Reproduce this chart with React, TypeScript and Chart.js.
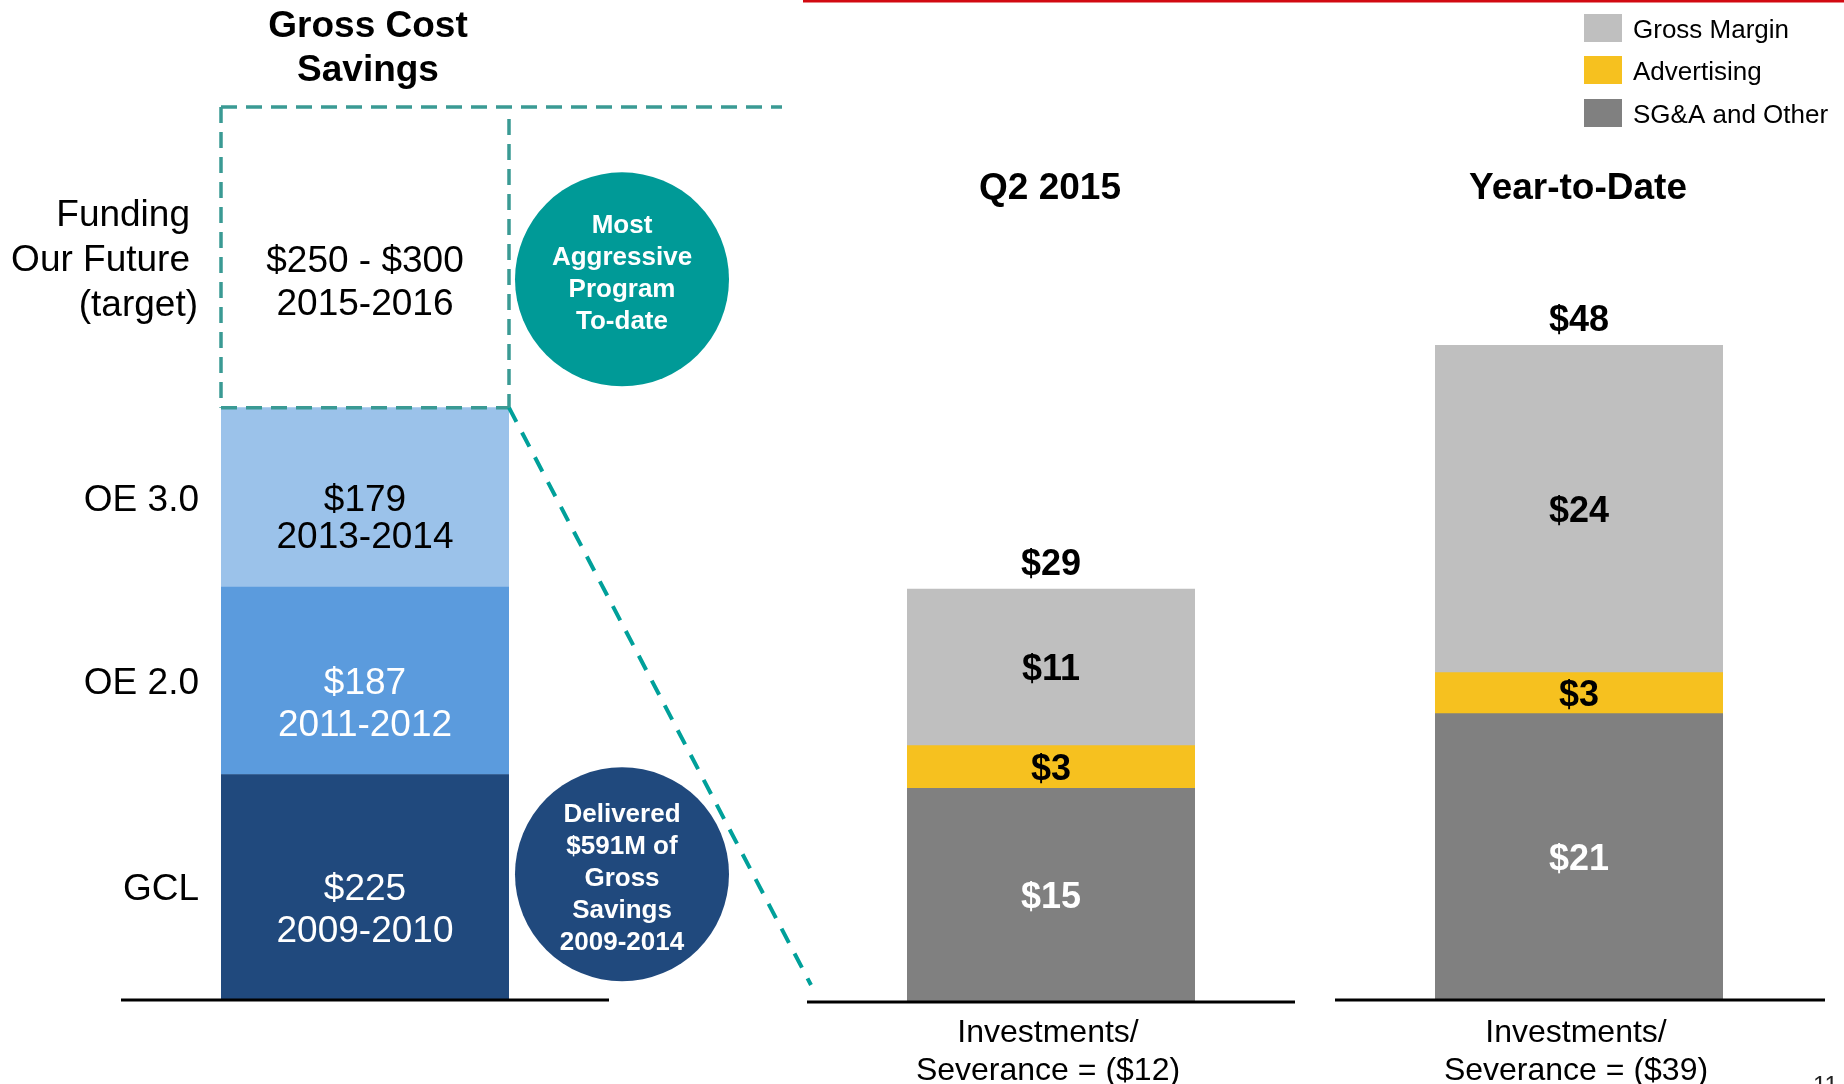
import React, { useEffect, useRef } from 'react';
import { Chart, registerables } from 'chart.js';

Chart.register(...registerables);

const FONT = '"Liberation Sans", Arial, Helvetica, sans-serif';
const W = 1844;
const H = 1084;

// ---- Left: Gross Cost Savings by program ($M) ----
const programNames = ['GCL', 'OE 2.0', 'OE 3.0'];
const programSavings = [225, 187, 179];
const programYears = ['2009-2010', '2011-2012', '2013-2014'];
const targetNameLines = ['Funding', 'Our Future', '(target)'];
const targetLow = 250;
const targetHigh = 300;
const targetYears = '2015-2016';
const deliveredTotal = 591;

// ---- Right: Q2 2015 and Year-to-Date savings ($M) ----
const periods = ['Q2 2015', 'Year-to-Date'];
const seriesNames = ['SG&A and Other', 'Advertising', 'Gross Margin'];
const sgaOther = [15, 21];
const advertising = [3, 3];
const grossMargin = [11, 24];
const investments = [12, 39];
const rightAxisMax = 50;

const leftColors = ['#20497D', '#5B9BDD', '#9BC2EA'];
const seriesColors = ['#808080', '#F6C11F', '#BFBFBF'];
const seriesTextColors = ['#FFFFFF', '#000000', '#000000'];

function txt(ctx: CanvasRenderingContext2D, s: string, x: number, y: number, size: number, bold: boolean, color: string, align: CanvasTextAlign = 'center') {
  ctx.save();
  ctx.font = `${bold ? 'bold ' : ''}${size}px ${FONT}`;
  ctx.fillStyle = color;
  ctx.textAlign = align;
  ctx.textBaseline = 'middle';
  ctx.fillText(s, x, y + 3);
  ctx.restore();
}

function line(ctx: CanvasRenderingContext2D, x1: number, y1: number, x2: number, y2: number, color: string, width: number, dash: number[] = []) {
  ctx.save();
  ctx.strokeStyle = color;
  ctx.lineWidth = width;
  ctx.setLineDash(dash);
  ctx.beginPath();
  ctx.moveTo(x1, y1);
  ctx.lineTo(x2, y2);
  ctx.stroke();
  ctx.restore();
}

const leftPlugin = {
  id: 'leftDecor',
  afterDatasetsDraw(chart: any) {
    const ctx: CanvasRenderingContext2D = chart.ctx;
    const yScale = chart.scales.y;
    const base = yScale.getPixelForValue(0);
    const els = [0, 1, 2, 3].map((i) => chart.getDatasetMeta(i).data[0] as any);
    const cx = els[0].x;
    const left = cx - els[0].width / 2;
    const right = cx + els[0].width / 2;

    // baseline
    line(ctx, left - 100, base, right + 100, base, '#000', 3);

    // title
    txt(ctx, 'Gross Cost', cx + 3, 24, 37, true, '#000');
    txt(ctx, 'Savings', cx + 3, 68, 37, true, '#000');

    // program segments
    const textColors = ['#FFFFFF', '#FFFFFF', '#000000'];
    programNames.forEach((name, i) => {
      const el = els[i];
      const mid = (el.y + el.base) / 2;
      txt(ctx, name, left - 22, mid, 37, false, '#000', 'right');
      txt(ctx, '$' + programSavings[i], cx, mid, 37, false, textColors[i]);
      txt(ctx, programYears[i], cx, mid + (i === 2 ? 37 : 42), 37, false, textColors[i]);
    });

    // target box
    const t = els[3];
    const tTop = t.y;
    const tBot = t.base;
    const tMid = (tTop + tBot) / 2;
    txt(ctx, targetNameLines[0], left - 31, tMid - 45, 37, false, '#000', 'right');
    txt(ctx, targetNameLines[1], left - 31, tMid, 37, false, '#000', 'right');
    txt(ctx, targetNameLines[2], left - 23, tMid + 45, 37, false, '#000', 'right');
    txt(ctx, `$${targetLow} - $${targetHigh}`, cx, tMid + 1, 37, false, '#000');
    txt(ctx, targetYears, cx, tMid + 44, 37, false, '#000');

    const dashC = '#3A9A94';
    line(ctx, left, tTop, right + 273, tTop, dashC, 3.5, [16, 9]);
    line(ctx, left, tTop, left, tBot, dashC, 3.5, [16, 9]);
    line(ctx, right, tTop + 12, right, tBot, dashC, 3.5, [16, 9]);
    line(ctx, left, tBot, right, tBot, dashC, 3.5, [16, 9]);
    line(ctx, right, tBot, right + 302, base - 15, '#00A09A', 4, [16, 12]);

    // circles
    const circ = (cy: number, color: string, lines: string[], textCenter: number) => {
      ctx.save();
      ctx.fillStyle = color;
      ctx.beginPath();
      ctx.arc(right + 113, cy, 107, 0, Math.PI * 2);
      ctx.fill();
      ctx.restore();
      const n = lines.length;
      lines.forEach((s, k) => {
        txt(ctx, s, right + 113, textCenter + (k - (n - 1) / 2) * 32, 26, true, '#FFFFFF');
      });
    };
    circ(tMid + 22, '#009A97', ['Most', 'Aggressive', 'Program', 'To-date'], tMid + 13);
    const g = els[0];
    const gMid = (g.y + g.base) / 2;
    circ(gMid - 13, '#20497D', ['Delivered', `$${deliveredTotal}M of`, 'Gross', 'Savings', '2009-2014'], gMid - 11);
  },
};

function makeRightPlugin(idx: number) {
  return {
    id: 'rightDecor' + idx,
    afterDatasetsDraw(chart: any) {
      const ctx: CanvasRenderingContext2D = chart.ctx;
      const base = chart.scales.y.getPixelForValue(0);
      const els = [0, 1, 2].map((i) => chart.getDatasetMeta(i).data[0] as any);
      const cx = els[0].x;
      const left = cx - els[0].width / 2;
      const right = cx + els[0].width / 2;

      line(ctx, left - 100, base, right + 100 + idx * 2, base, '#000', 3);
      txt(ctx, periods[idx], cx - 1, 186, 37, true, '#000');

      els.forEach((el, i) => {
        const mid = (el.y + el.base) / 2;
        const v = [sgaOther, advertising, grossMargin][i][idx];
        txt(ctx, '$' + v, cx, mid, 36, true, seriesTextColors[i]);
      });
      const total = sgaOther[idx] + advertising[idx] + grossMargin[idx];
      txt(ctx, '$' + total, cx, els[2].y - 27, 36, true, '#000');

      txt(ctx, 'Investments/', cx - 3, 1030, 32, false, '#000');
      txt(ctx, `Severance = ($${investments[idx]})`, cx - 3, 1068, 32, false, '#000');

      if (idx === 0) {
        // red top rule
        ctx.save();
        ctx.fillStyle = '#D20A11';
        ctx.fillRect(left - 104, 0, W - (left - 104), 2.5);
        ctx.restore();
      } else {
        // legend
        const order = [2, 1, 0];
        order.forEach((si, k) => {
          const top = [14, 56, 99][k];
          ctx.save();
          ctx.fillStyle = seriesColors[si];
          ctx.fillRect(1584, top, 38, 28);
          ctx.restore();
          txt(ctx, seriesNames[si], 1633, top + 14, 26, false, '#000', 'left');
        });
        // page number
        ctx.save();
        ctx.font = `24px ${FONT}`;
        ctx.fillStyle = '#222';
        ctx.textAlign = 'left';
        ctx.textBaseline = 'alphabetic';
        ctx.fillText('11', 1813, 1093);
        ctx.restore();
      }
    },
  };
}

function baseOptions(padding: any, yMax: number) {
  return {
    responsive: false,
    animation: false as const,
    devicePixelRatio: 1,
    layout: { padding },
    plugins: { legend: { display: false }, tooltip: { enabled: false } },
    scales: {
      x: { display: false, stacked: true },
      y: { display: false, stacked: true, min: 0, max: yMax },
    },
  };
}

export default function App() {
  const leftRef = useRef<HTMLCanvasElement>(null);
  const q2Ref = useRef<HTMLCanvasElement>(null);
  const ytdRef = useRef<HTMLCanvasElement>(null);

  useEffect(() => {
    document.body.style.margin = '0';
    const charts: Chart[] = [];

    const leftMax = programSavings.reduce((a, b) => a + b, 0) + targetHigh;
    charts.push(
      new Chart(leftRef.current!, {
        type: 'bar',
        data: {
          labels: ['Gross Cost Savings'],
          datasets: [
            ...programSavings.map((v, i) => ({
              label: programNames[i],
              data: [v],
              backgroundColor: leftColors[i],
              borderWidth: 0,
              barPercentage: 1,
              categoryPercentage: 1,
            })),
            {
              label: targetNameLines.join(' '),
              data: [targetHigh],
              backgroundColor: 'rgba(0,0,0,0)',
              borderWidth: 0,
              barPercentage: 1,
              categoryPercentage: 1,
            },
          ],
        },
        options: baseOptions({ left: 221, right: W - 509, top: 107, bottom: H - 1000 }, leftMax) as any,
        plugins: [leftPlugin],
      })
    );

    const rightPads = [
      { left: 907, right: W - 1195, top: 290, bottom: H - 1002 },
      { left: 1435, right: W - 1723, top: 318, bottom: H - 1000 },
    ];
    [q2Ref, ytdRef].forEach((ref, idx) => {
      charts.push(
        new Chart(ref.current!, {
          type: 'bar',
          data: {
            labels: [periods[idx]],
            datasets: [sgaOther, advertising, grossMargin].map((arr, i) => ({
              label: seriesNames[i],
              data: [arr[idx]],
              backgroundColor: seriesColors[i],
              borderWidth: 0,
              barPercentage: 1,
              categoryPercentage: 1,
            })),
          },
          options: baseOptions(rightPads[idx], rightAxisMax) as any,
          plugins: [makeRightPlugin(idx)],
        })
      );
    });

    return () => charts.forEach((c) => c.destroy());
  }, []);

  const cs: React.CSSProperties = { position: 'absolute', left: 0, top: 0, width: W, height: H };
  return (
    <div style={{ position: 'relative', width: W, height: H, overflow: 'hidden', background: '#fff' }}>
      <canvas ref={leftRef} width={W} height={H} style={cs} />
      <canvas ref={q2Ref} width={W} height={H} style={cs} />
      <canvas ref={ytdRef} width={W} height={H} style={cs} />
    </div>
  );
}
